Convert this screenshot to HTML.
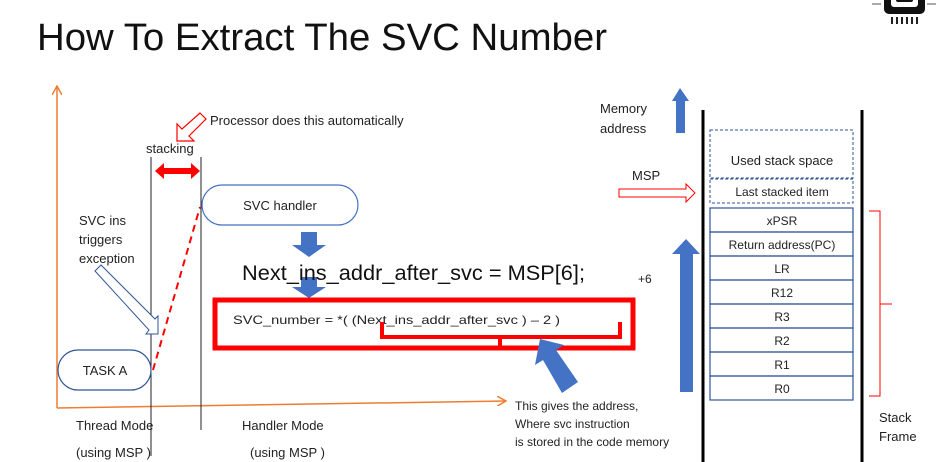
<!DOCTYPE html>
<html><head><meta charset="utf-8"><style>
html,body{margin:0;padding:0;background:#fff;}
svg{display:block;font-family:"Liberation Sans",sans-serif;}
</style></head><body>
<svg width="936" height="462" viewBox="0 0 936 462" xmlns="http://www.w3.org/2000/svg">
<defs>
<marker id="oa" markerWidth="10" markerHeight="10" refX="9" refY="5" orient="auto" markerUnits="userSpaceOnUse">
<path d="M0,0 L9,5 L0,10" fill="none" stroke="#ED7D31" stroke-width="1.5"/></marker>
</defs>
<!-- logo -->
<rect x="884" y="-6" width="41" height="20" rx="5" fill="#111"/>
<rect x="891" y="-6" width="27" height="13" rx="3" fill="#fff"/>
<rect x="896" y="-6" width="17" height="8" rx="2" fill="#111"/>
<rect x="872" y="3" width="9" height="2" fill="#aaa"/><rect x="927" y="3" width="9" height="2" fill="#aaa"/>
<g fill="#222"><rect x="891" y="17" width="2" height="7"/><rect x="896" y="17" width="2" height="7"/><rect x="901" y="17" width="2" height="7"/><rect x="906" y="17" width="2" height="7"/><rect x="911" y="17" width="2" height="7"/><rect x="916" y="17" width="2" height="7"/></g>
<!-- title -->
<text x="37" y="50" font-size="38" fill="#111" textLength="570" lengthAdjust="spacingAndGlyphs">How To Extract The SVC Number</text>
<!-- orange axes -->
<line x1="57" y1="408" x2="57" y2="86" stroke="#ED7D31" stroke-width="1.5" marker-end="url(#oa)"/>
<line x1="57" y1="408" x2="506" y2="401" stroke="#ED7D31" stroke-width="1.5" marker-end="url(#oa)"/>
<!-- black lines -->
<line x1="151" y1="157" x2="151" y2="456" stroke="#222" stroke-width="1"/>
<line x1="201" y1="157" x2="201" y2="430" stroke="#222" stroke-width="1"/>
<text x="146" y="153" font-size="13" fill="#222">stacking</text>
<!-- red double arrow -->
<path d="M155,171 L164,163 L164,168 L191,168 L191,163 L200,171 L191,179 L191,174 L164,174 L164,179 Z" fill="#f00"/>
<!-- processor arrow hollow -->
<path d="M200,113 L206,119 L189,136 L194,141 L177,141 L177,124 L182,129 Z" fill="#fff" stroke="#f00" stroke-width="1.2"/>
<text x="210" y="125" font-size="13" fill="#222">Processor does this automatically</text>
<!-- SVC handler -->
<rect x="202" y="185" width="156" height="40" rx="20" fill="#fff" stroke="#4472C4" stroke-width="1.2"/>
<text x="280" y="210" font-size="13" fill="#222" text-anchor="middle">SVC handler</text>
<!-- SVC ins text -->
<text font-size="13" fill="#222"><tspan x="79" y="225">SVC ins</tspan><tspan x="79" y="244">triggers</tspan><tspan x="79" y="263">exception</tspan></text>
<!-- hollow blue arrow -->
<path d="M95,271 L101,265 L155,319 L158,316 L158,334 L146,334 L149,330 Z" fill="#fff" stroke="#2F5597" stroke-width="1"/>
<!-- TASK A -->
<rect x="58" y="350" width="93" height="40" rx="20" fill="#fff" stroke="#2F5597" stroke-width="1.2"/>
<text x="105" y="375" font-size="13" fill="#222" text-anchor="middle">TASK A</text>
<!-- red dashed -->
<line x1="153" y1="370" x2="200" y2="207" stroke="#f00" stroke-width="2" stroke-dasharray="7,5"/>
<!-- blue down arrows -->
<path d="M301,232 L317,232 L317,245 L326,245 L309,257 L292,245 L301,245 Z" fill="#4472C4"/>
<path d="M301,277 L317,277 L317,287 L326,287 L309,298 L292,287 L301,287 Z" fill="#4472C4"/>
<text x="242" y="280" font-size="21" fill="#111" textLength="343" lengthAdjust="spacingAndGlyphs">Next_ins_addr_after_svc =  MSP[6];</text>
<!-- red box -->
<rect x="215" y="300" width="418" height="48" fill="none" stroke="#f00" stroke-width="5"/>
<text x="233" y="324" font-size="12" fill="#222" textLength="327" lengthAdjust="spacingAndGlyphs">SVC_number =  *(  (Next_ins_addr_after_svc ) – 2 )</text>
<path d="M382,322 L382,337 L620,337 L620,322 M500,337 L500,350" fill="none" stroke="#f00" stroke-width="4"/>
<!-- big diagonal blue arrow -->
<path d="M578,382 L562,393 L543,360 L535,365 L540,339 L564,345 L556,350 Z" fill="#4472C4"/>
<text font-size="12" fill="#222"><tspan x="515" y="410">This gives the address,</tspan><tspan x="515" y="428">Where svc instruction</tspan><tspan x="515" y="446">is stored in the code memory</tspan></text>
<!-- modes -->
<text font-size="13" fill="#222"><tspan x="76" y="430">Thread Mode</tspan><tspan x="76" y="457">(using MSP )</tspan><tspan x="242" y="430">Handler Mode</tspan><tspan x="250" y="457">(using MSP )</tspan></text>
<!-- memory address -->
<text font-size="13" fill="#222"><tspan x="600" y="113">Memory</tspan><tspan x="600" y="133">address</tspan></text>
<path d="M676,133 L676,101 L672,101 L680,88 L689,101 L685,101 L685,133 Z" fill="#4472C4"/>
<text x="632" y="180" font-size="13" fill="#222">MSP</text>
<path d="M619,189 L686,189 L686,184 L695,193 L686,202 L686,197 L619,197 Z" fill="#fff" stroke="#f00" stroke-width="1"/>
<!-- stack walls -->
<line x1="703" y1="110" x2="703" y2="462" stroke="#000" stroke-width="3"/>
<line x1="862" y1="110" x2="862" y2="462" stroke="#000" stroke-width="3"/>
<!-- dashed boxes -->
<rect x="710" y="130" width="143" height="48" fill="none" stroke="#2F5597" stroke-width="1" stroke-dasharray="3,2"/>
<rect x="710" y="179" width="143" height="24" fill="none" stroke="#2F5597" stroke-width="1" stroke-dasharray="3,2"/>
<text x="782" y="165" font-size="13" fill="#222" text-anchor="middle">Used stack space</text>
<text x="782" y="196" font-size="12" fill="#222" text-anchor="middle">Last stacked item</text>
<g fill="none" stroke="#2F5597" stroke-width="1.2">
<rect x="710" y="208" width="143" height="24"/><rect x="710" y="232" width="143" height="24"/><rect x="710" y="256" width="143" height="24"/><rect x="710" y="280" width="143" height="24"/><rect x="710" y="304" width="143" height="24"/><rect x="710" y="328" width="143" height="24"/><rect x="710" y="352" width="143" height="24"/><rect x="710" y="376" width="143" height="24"/>
</g>
<g font-size="12" fill="#222" text-anchor="middle">
<text x="782" y="225">xPSR</text><text x="782" y="249">Return address(PC)</text><text x="782" y="273">LR</text><text x="782" y="297">R12</text><text x="782" y="321">R3</text><text x="782" y="345">R2</text><text x="782" y="369">R1</text><text x="782" y="393">R0</text>
</g>
<!-- big up arrow -->
<path d="M680,392 L693,392 L693,254 L700,254 L686,239 L672,254 L680,254 Z" fill="#4472C4"/>
<text x="638" y="283" font-size="12" fill="#222">+6</text>
<!-- brace -->
<path d="M869,211 L880,211 L880,304 L892,304 M880,304 L880,396 L869,396" fill="none" stroke="#f00" stroke-width="1"/>
<text font-size="13" fill="#222"><tspan x="879" y="422">Stack</tspan><tspan x="879" y="441">Frame</tspan></text>
</svg>
</body></html>
